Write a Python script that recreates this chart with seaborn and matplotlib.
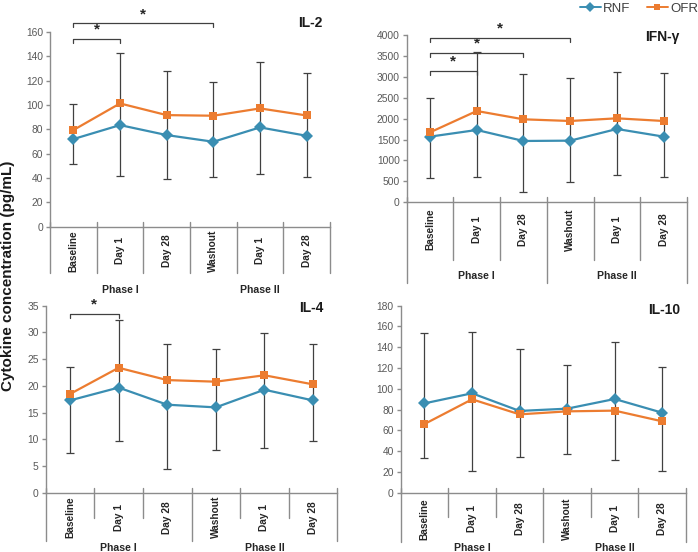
import numpy as np
import pandas as pd
import matplotlib
matplotlib.use("Agg")
import matplotlib.pyplot as plt
import matplotlib.transforms as mtransforms
from matplotlib.lines import Line2D
import seaborn as sns

# ---------------- data ----------------
times = ["Baseline", "Day 1", "Day 28", "Washout", "Day 1", "Day 28"]
phases = ["Phase I", "Phase II"]
phase_pos = [1, 4]
groups = ["RNF", "OFR"]

il2_rnf = [72.0, 83.5, 75.3, 69.8, 81.6, 74.7]
il2_ofr = [79.4, 101.3, 91.7, 91.2, 97.2, 91.4]
il2_hi = [101.0, 142.4, 127.6, 118.8, 135.0, 126.0]
il2_lo = [51.2, 41.6, 38.9, 41.0, 43.3, 40.5]
il2_sig = [(0, 1, 153.9), (0, 3, 167.0)]

ifn_rnf = [1570, 1729, 1466, 1474, 1753, 1570]
ifn_ofr = [1673, 2183, 1984, 1944, 2008, 1944]
ifn_hi = [2494, 3602, 3068, 2980, 3124, 3100]
ifn_lo = [574, 598, 239, 494, 653, 606]
ifn_sig = [(0, 1, 3147), (0, 2, 3562), (0, 3, 3936)]

il4_rnf = [17.3, 19.7, 16.5, 16.0, 19.3, 17.3]
il4_ofr = [18.5, 23.4, 21.1, 20.8, 22.0, 20.3]
il4_hi = [23.6, 32.4, 27.9, 26.9, 29.9, 27.9]
il4_lo = [7.4, 9.8, 4.4, 8.0, 8.4, 9.8]
il4_sig = [(0, 1, 33.5)]

il10_rnf = [86.0, 95.7, 78.7, 80.9, 90.2, 77.0]
il10_ofr = [66.1, 89.9, 75.4, 78.3, 79.0, 68.7]
il10_hi = [153.5, 154.4, 138.7, 122.6, 144.8, 121.3]
il10_lo = [33.1, 20.5, 34.0, 37.6, 31.1, 21.2]
il10_sig = []

# ---------------- style ----------------
sns.set_style("white")
plt.rcParams["font.family"] = ["Liberation Sans", "DejaVu Sans"]

C_RNF = "#3A8EB2"
C_OFR = "#EC7C30"
palette = {"RNF": C_RNF, "OFR": C_OFR}
AX_C = "#8C8C8C"
TXT_C = "#595959"
ERR_C = "#404040"

W, H = 698, 552
fig = plt.figure(figsize=(W / 100, H / 100), dpi=100)

panels = [
    dict(name="IL-2", rnf=il2_rnf, ofr=il2_ofr, hi=il2_hi, lo=il2_lo, sig=il2_sig,
         ymax=160, step=20, x0=50, x1=330, ytop=32, ybot=226.7,
         lab=24.3, short=46.6, long=46.6, ph=63.3, tx=322, ty=23.3),
    dict(name="IFN-γ", rnf=ifn_rnf, ofr=ifn_ofr, hi=ifn_hi, lo=ifn_lo, sig=ifn_sig,
         ymax=4000, step=500, x0=406.7, x1=687, ytop=35, ybot=202.3,
         lab=27.2, short=57.7, long=80.4, ph=73.4, tx=680, ty=36.7),
    dict(name="IL-4", rnf=il4_rnf, ofr=il4_ofr, hi=il4_hi, lo=il4_lo, sig=il4_sig,
         ymax=35, step=5, x0=45.7, x1=337.3, ytop=305.7, ybot=493.0,
         lab=24.2, short=24.7, long=48.4, ph=55.0, tx=323, ty=308),
    dict(name="IL-10", rnf=il10_rnf, ofr=il10_ofr, hi=il10_hi, lo=il10_lo, sig=il10_sig,
         ymax=180, step=20, x0=400.7, x1=686, ytop=305.7, ybot=492.7,
         lab=26.3, short=24.6, long=49.0, ph=55.0, tx=680, ty=310),
]

pos = np.arange(len(times))

for p in panels:
    ax = fig.add_axes([p["x0"] / W, 1 - p["ybot"] / H,
                       (p["x1"] - p["x0"]) / W, (p["ybot"] - p["ytop"]) / H])
    hpx = p["ybot"] - p["ytop"]

    def fy(px_below):  # pixels below zero line -> axes fraction
        return -px_below / hpx

    df = pd.DataFrame({
        "pos": np.concatenate([pos, pos]),
        "value": np.concatenate([p["rnf"], p["ofr"]]),
        "group": ["RNF"] * len(pos) + ["OFR"] * len(pos),
    })

    # error bars (one combined bar per time point)
    mid = np.array(p["ofr"], dtype=float)
    hi = np.array(p["hi"], dtype=float)
    lo = np.array(p["lo"], dtype=float)
    ax.errorbar(pos, mid, yerr=[mid - lo, hi - mid], fmt="none", ecolor=ERR_C,
                elinewidth=0.9, capsize=3, capthick=0.9, zorder=2)

    sns.lineplot(data=df, x="pos", y="value", hue="group", style="group",
                 hue_order=groups, style_order=groups, palette=palette,
                 markers={"RNF": "D", "OFR": "s"}, dashes=False,
                 markersize=6, markeredgewidth=0, linewidth=1.6,
                 errorbar=None, legend=False, ax=ax, zorder=3)

    ax.set_xlim(-0.5, len(times) - 0.5)
    ax.set_ylim(0, p["ymax"])
    ax.set_yticks(np.arange(0, p["ymax"] + p["step"] / 2, p["step"]))
    ax.set_xticks([])
    ax.set_xlabel("")
    ax.set_ylabel("")
    for s in ["top", "right"]:
        ax.spines[s].set_visible(False)
    for s in ["left", "bottom"]:
        ax.spines[s].set_color(AX_C)
        ax.spines[s].set_linewidth(1.0)
    ax.tick_params(axis="y", labelsize=7.4, colors=AX_C, labelcolor=TXT_C,
                   length=3, width=1.0, pad=2, left=True, direction="out")
    ax.patch.set_alpha(0)

    tr = mtransforms.blended_transform_factory(ax.transData, ax.transAxes)
    # separators
    for b in np.arange(-0.5, len(times), 1.0):
        long_sep = b in (-0.5, 2.5, len(times) - 0.5)
        end = p["long"] if long_sep else p["short"]
        ax.plot([b, b], [5 / hpx, fy(end)], color=AX_C, lw=1.0,
                transform=tr, clip_on=False, zorder=1)
    # category labels
    for i, t in enumerate(times):
        ax.text(i, fy(p["lab"]), t, rotation=90, ha="center", va="center",
                fontsize=7.3, fontweight="bold", color="#262626", transform=tr)
    # phase labels
    for x, ph in zip(phase_pos, phases):
        ax.text(x, fy(p["ph"]), ph, ha="center", va="center", fontsize=7.6,
                fontweight="bold", color="#262626", transform=tr)

    # significance brackets
    drop = 4 * p["ymax"] / hpx
    for a, b, lvl in p["sig"]:
        ax.plot([a, a, b, b], [lvl - drop, lvl, lvl, lvl - drop], color="#404040",
                lw=0.9, clip_on=False, zorder=4)
        ax.text((a + b) / 2, lvl + 2.5 * p["ymax"] / hpx, "*", ha="center",
                va="bottom", fontsize=11, fontweight="bold", color="#262626",
                clip_on=False)

    # panel title
    fig.text(p["tx"] / W, 1 - p["ty"] / H, p["name"], ha="right", va="center",
             fontsize=10, fontweight="bold", color="#1a1a1a")

fig.text(8 / W, 1 - 276 / H, "Cytokine concentration (pg/mL)", rotation=90,
         ha="center", va="center", fontsize=11, fontweight="bold", color="#1a1a1a")

handles = [Line2D([0], [0], color=C_RNF, marker="D", markersize=5, lw=1.4,
                  markeredgewidth=0),
           Line2D([0], [0], color=C_OFR, marker="s", markersize=5, lw=1.4,
                  markeredgewidth=0)]
fig.legend(handles, groups, loc="upper right", bbox_to_anchor=(1.008, 1.005), ncol=2,
           frameon=False, fontsize=9.5, handlelength=1.6, handletextpad=0.2,
           columnspacing=1.2, borderaxespad=0, labelcolor="#404040")

fig.savefig("out.png", dpi=100)
